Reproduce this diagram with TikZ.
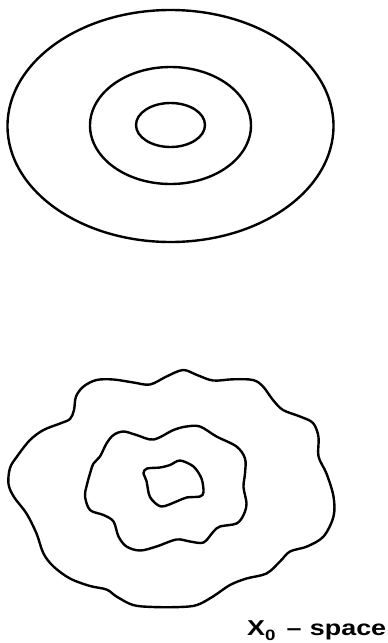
\documentclass[tikz,border=0pt]{standalone}
\usepackage{fontspec}
\newfontfamily\labfont[FakeStretch=1.25]{Liberation Sans}
\begin{document}
\begin{tikzpicture}[x=1pt,y=-1pt,
  contour/.style={line width=2.4pt,line join=round}]
\useasboundingbox (0,0) rectangle (388,643);
% top: concentric ellipses
\draw[contour] (170.5,126) ellipse [x radius=163, y radius=116];
\draw[contour] (170.5,125.5) ellipse [x radius=80.5, y radius=58.5];
\draw[contour] (170.5,125) ellipse [x radius=34.5, y radius=22];
% bottom: irregular contours
\draw[contour] plot[smooth cycle,tension=0.55] coordinates {
 (183,370) (197,375) (213,380.5) (233,379.3) (253,380) (263,386.5) (273,400)
 (283,410) (300,416.5) (313,423) (318.5,437) (318.5,456.5) (326.5,473.5)
 (333.5,496.5) (333.5,516.5) (323.5,536.5) (307,546.5) (290,551.5) (280,561.5)
 (266.5,573.5) (246.5,578.5) (230,585) (213,596.5) (197,605) (180,607)
 (153,607) (133,605) (116.5,596.5) (106.5,589.5) (90,586) (70,578.5)
 (53.5,566.5) (43.5,553.5) (36.5,533.5) (26.5,513.5) (14,497) (8.5,484)
 (10,468) (17,456.5) (30,440) (43.5,430) (60,423.5) (70,419) (74,410)
 (76,396.5) (83.5,386.5) (96.5,380) (113.5,379.5) (133.5,382.5) (150,384.5)
 (166.5,376.5)};
\draw[contour] plot[smooth cycle,tension=0.55] coordinates {
 (186.5,426.5) (200,426.5) (216.5,436.5) (236.5,446.5) (245,458.5) (245,473.5)
 (243.5,487) (246.5,503.5) (243.5,515) (236.5,523.5) (220,526.5) (213.5,531.5)
 (203.5,542.5) (190,541.5) (176.5,539.5) (156.5,546.5) (140,550.5)
 (126.5,546.5) (118.5,536.5) (113.5,521.5) (103.5,515) (90,510) (85,496.5)
 (86.5,486.5) (90,473.5) (93.5,463.5) (100,456.5) (106.5,443.5) (113.5,435)
 (123.5,431.5) (136.5,435) (153.5,439.5) (173.5,430)};
\draw[contour] plot[smooth cycle,tension=0.5] coordinates {
 (147,468.5) (160,467.5) (170,465) (180,460.5) (193.5,466.5) (201.5,478.5)
 (203.5,492) (200,496.5) (186.5,497.5) (176.5,501.5) (161,506.5) (150,497)
 (146.5,481) (143.5,473)};
% label
\node[anchor=base west,inner sep=0pt] (lbl) at (247,635)
 {\labfont\bfseries\fontsize{21.5}{24}\selectfont X\raisebox{-5.5pt}{\fontsize{15}{16}\selectfont 0}\hspace{11pt}–\hspace{8.5pt}space};
\end{tikzpicture}
\end{document}
